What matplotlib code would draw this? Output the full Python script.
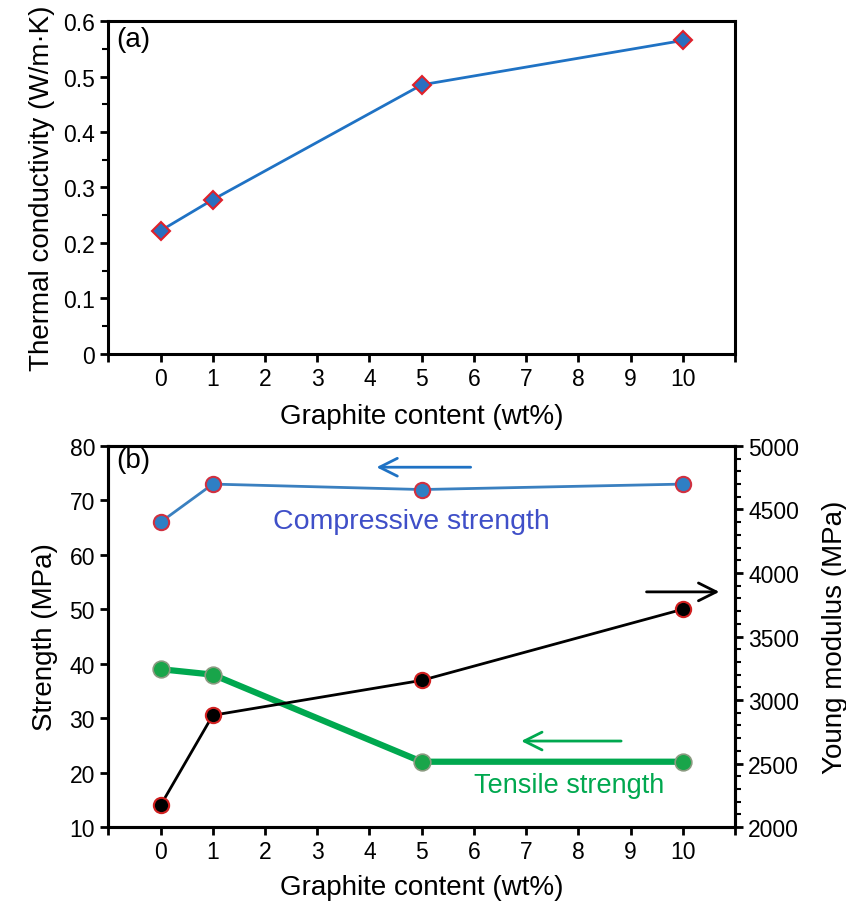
import matplotlib
matplotlib.use("Agg")
import matplotlib.pyplot as plt
from matplotlib.ticker import MultipleLocator

plt.rcParams['font.family'] = ['Liberation Sans', 'DejaVu Sans']

graphite = [0, 1, 5, 10]
thermal = [0.222, 0.278, 0.485, 0.565]
compressive = [66, 73, 72, 73]
tensile = [39, 38, 22, 22]
young = [2170, 2880, 3155, 3715]
xticks = list(range(0, 11))

fig = plt.figure(figsize=(8.46, 9.03), dpi=100)

TICK_FS = 16.5
LAB_FS = 20

def style_axis(ax):
    for s in ax.spines.values():
        s.set_linewidth(2.2)
    ax.tick_params(axis='both', which='major', direction='out', length=6, width=2, labelsize=TICK_FS)
    ax.tick_params(axis='both', which='minor', direction='out', length=4, width=1.5)
    ax.set_xlim(-1, 11)
    ax.set_xticks(range(-1, 12))
    ax.set_xticklabels([''] + [str(v) for v in xticks] + [''])

# (a)
ax1 = fig.add_axes([0.128, 0.607, 0.741, 0.3686])
style_axis(ax1)
ax1.plot(graphite, thermal, color='#1f72c4', lw=2, marker='D', ms=9,
         markerfacecolor='#2a6fbf', markeredgecolor='#e0202a', markeredgewidth=1.5)
ax1.set_ylim(0, 0.6)
ax1.set_yticks([0, 0.1, 0.2, 0.3, 0.4, 0.5, 0.6])
ax1.set_yticklabels(['0', '0.1', '0.2', '0.3', '0.4', '0.5', '0.6'])
ax1.yaxis.set_minor_locator(MultipleLocator(0.05))
ax1.set_ylabel('Thermal conductivity (W/m·K)', fontsize=LAB_FS, labelpad=6)
ax1.set_xlabel('Graphite content (wt%)', fontsize=LAB_FS, labelpad=9)
ax1.text(0.012, 0.985, '(a)', transform=ax1.transAxes, fontsize=LAB_FS, va='top', ha='left')

# (b)
ax2 = fig.add_axes([0.128, 0.083, 0.741, 0.422])
style_axis(ax2)
ax2.set_ylim(10, 80)
ax2.set_yticks(range(10, 81, 10))
ax2.plot(graphite, compressive, color='#3a80c0', lw=2, marker='o', ms=11,
         markerfacecolor='#2f7fc4', markeredgecolor='#d03040', markeredgewidth=1.5, zorder=3)
ax2.plot(graphite, tensile, color='#00a84f', lw=4.5, marker='o', ms=12,
         markerfacecolor='#19a54a', markeredgecolor='#8a9a80', markeredgewidth=1.2, zorder=3)
ax2.set_ylabel('Strength (MPa)', fontsize=LAB_FS, labelpad=8)
ax2.set_xlabel('Graphite content (wt%)', fontsize=LAB_FS, labelpad=8)
ax2.text(0.012, 0.998, '(b)', transform=ax2.transAxes, fontsize=LAB_FS, va='top', ha='left')

ax3 = ax2.twinx()
ax3.set_ylim(2000, 5000)
ax3.set_yticks(range(2000, 5001, 500))
ax3.yaxis.set_minor_locator(MultipleLocator(100))
for s in ax3.spines.values():
    s.set_linewidth(2.2)
ax3.tick_params(axis='y', which='major', direction='out', length=6, width=2, labelsize=TICK_FS)
ax3.tick_params(axis='y', which='minor', direction='out', length=4, width=1.5)
ax3.plot(graphite, young, color='black', lw=2, marker='o', ms=11,
         markerfacecolor='black', markeredgecolor='#d02020', markeredgewidth=1.5, zorder=3)
ax3.set_ylabel('Young modulus (MPa)', fontsize=LAB_FS, labelpad=16)

ax2.text(4.8, 66.2, 'Compressive strength', color='#3f4fc8', fontsize=20.5, ha='center', va='center')
ax2.text(7.83, 17.7, 'Tensile strength', color='#00a84f', fontsize=19.5, ha='center', va='center')

ax2.annotate('', xy=(4.08, 76.1), xytext=(5.99, 76.1),
             arrowprops=dict(arrowstyle='->', color='#1f72c4', lw=2, mutation_scale=32))
ax2.annotate('', xy=(10.75, 53.2), xytext=(9.25, 53.2),
             arrowprops=dict(arrowstyle='->', color='black', lw=2, mutation_scale=32))
ax2.annotate('', xy=(6.85, 25.8), xytext=(8.87, 25.8),
             arrowprops=dict(arrowstyle='->', color='#00a84f', lw=2, mutation_scale=32))

fig.savefig('out.png', dpi=100)
